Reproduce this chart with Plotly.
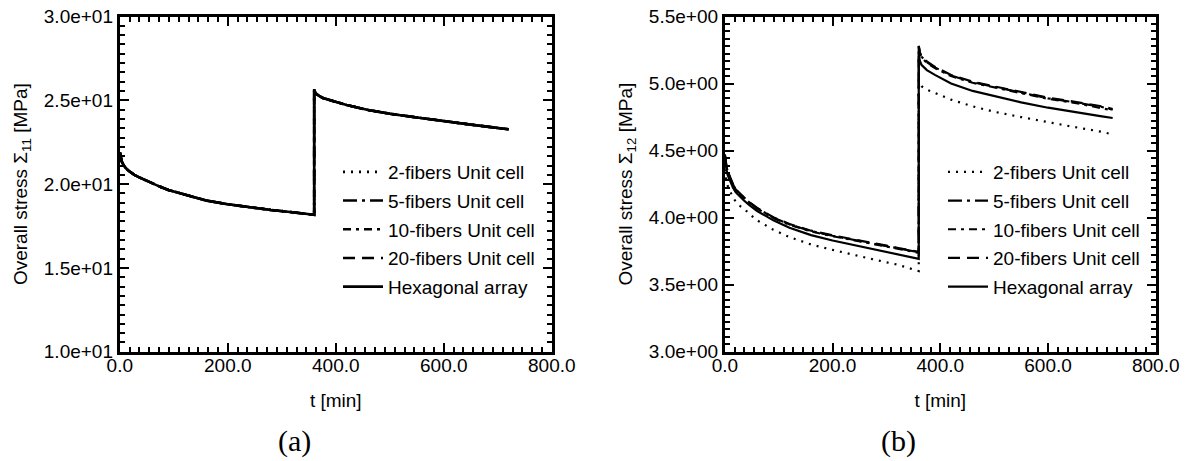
import plotly.graph_objects as go

# ---------------- data ----------------
t_min = [0, 1, 2, 3.5, 5, 7.5, 10, 15, 20, 27, 35, 45, 60, 75, 90, 120, 160, 200, 240, 280, 320, 360,
         360, 361, 362, 365, 370, 375, 390, 420, 460, 500, 550, 600, 650, 700, 720]

# (a) overall stress Sigma_11 [MPa]  (all five models coincide)
sigma11 = [21.9, 21.65, 21.5, 21.36, 21.25, 21.1, 21.0, 20.83, 20.7, 20.55, 20.42, 20.27, 20.04, 19.84, 19.65,
           19.38, 19.02, 18.8, 18.62, 18.46, 18.32, 18.17,
           25.66, 25.52, 25.45, 25.35, 25.24, 25.15, 25.0, 24.72, 24.42, 24.2, 23.98, 23.75, 23.55, 23.35, 23.27]

# (b) overall stress Sigma_12 [MPa]
s12_2fib = [4.36, 4.32, 4.29, 4.26, 4.24, 4.215, 4.193, 4.155, 4.12, 4.09, 4.07, 4.03, 3.98, 3.945, 3.91,
            3.855, 3.80, 3.76, 3.72, 3.685, 3.65, 3.602,
            5.03, 5.015, 5.00, 4.98, 4.968, 4.955, 4.93, 4.88, 4.83, 4.79, 4.75, 4.71, 4.675, 4.64, 4.62]
s12_5fib = [4.47, 4.43, 4.40, 4.37, 4.35, 4.32, 4.29, 4.25, 4.21, 4.18, 4.15, 4.115, 4.07, 4.035, 4.00,
            3.95, 3.90, 3.865, 3.835, 3.80, 3.77, 3.742,
            5.28, 5.25, 5.23, 5.20, 5.18, 5.16, 5.12, 5.06, 5.01, 4.975, 4.93, 4.89, 4.86, 4.825, 4.805]
s12_10fib = [4.47, 4.43, 4.40, 4.37, 4.35, 4.318, 4.288, 4.247, 4.208, 4.177, 4.147, 4.112, 4.067, 4.032, 3.997,
             3.947, 3.897, 3.862, 3.832, 3.797, 3.767, 3.738,
             5.27, 5.245, 5.225, 5.195, 5.175, 5.155, 5.115, 5.056, 5.006, 4.971, 4.926, 4.886, 4.856, 4.82, 4.80]
s12_20fib = [4.47, 4.43, 4.40, 4.37, 4.35, 4.322, 4.292, 4.252, 4.213, 4.183, 4.153, 4.118, 4.073, 4.038, 4.003,
             3.953, 3.903, 3.868, 3.838, 3.803, 3.773, 3.745,
             5.28, 5.255, 5.235, 5.205, 5.185, 5.165, 5.125, 5.064, 5.014, 4.979, 4.934, 4.894, 4.864, 4.83, 4.81]
s12_hex = [4.46, 4.42, 4.38, 4.35, 4.32, 4.295, 4.267, 4.225, 4.19, 4.16, 4.13, 4.095, 4.05, 4.015, 3.98,
           3.925, 3.87, 3.83, 3.795, 3.76, 3.725, 3.693,
           5.22, 5.19, 5.17, 5.14, 5.12, 5.10, 5.065, 5.00, 4.945, 4.905, 4.86, 4.82, 4.785, 4.755, 4.743]

series_names = ["2-fibers Unit cell", "5-fibers Unit cell", "10-fibers Unit cell",
                "20-fibers Unit cell", "Hexagonal array"]

x_tickvals = [0, 200, 400, 600, 800]
x_ticktext = ["0.0", "200.0", "400.0", "600.0", "800.0"]
y1_tickvals = [10, 15, 20, 25, 30]
y1_ticktext = ["1.0e+01", "1.5e+01", "2.0e+01", "2.5e+01", "3.0e+01"]
y2_tickvals = [3.0, 3.5, 4.0, 4.5, 5.0, 5.5]
y2_ticktext = ["3.0e+00", "3.5e+00", "4.0e+00", "4.5e+00", "5.0e+00", "5.5e+00"]

# ---------------- styling ----------------
FONT = "Liberation Sans, Arial, sans-serif"
FS = 19
dashes = ["2px,6px", "14px,5px,3px,5px", "8px,5px,3px,5px", "12px,7px", "solid"]

fig = go.Figure()

left_series = [sigma11, sigma11, sigma11, sigma11, sigma11]
for i, (name, ys) in enumerate(zip(series_names, left_series)):
    fig.add_trace(go.Scatter(x=t_min, y=ys, mode="lines", name=name,
                             line=dict(color="black", width=2.6, dash=dashes[i]),
                             xaxis="x", yaxis="y", legend="legend", legendgroup="a%d" % i))

right_series = [s12_2fib, s12_5fib, s12_10fib, s12_20fib, s12_hex]
for i, (name, ys) in enumerate(zip(series_names, right_series)):
    fig.add_trace(go.Scatter(x=t_min, y=ys, mode="lines", name=name,
                             line=dict(color="black", width=2.2, dash=dashes[i]),
                             xaxis="x2", yaxis="y2", legend="legend2", legendgroup="b%d" % i))


def xaxis(domain, anchor):
    return dict(domain=domain, anchor=anchor, range=[0, 800], tickmode="array",
                tickvals=x_tickvals, ticktext=x_ticktext, automargin=False,
                ticks="inside", ticklen=9, tickwidth=2, tickcolor="black",
                ticklabelstandoff=-6,
                showline=True, linewidth=3, linecolor="black", mirror="allticks",
                showgrid=False, zeroline=False,
                tickfont=dict(family=FONT, size=FS, color="black"),
                minor=dict(tickmode="linear", tick0=0, dtick=200 / 11, ticks="inside",
                           ticklen=5, tickwidth=1.5, tickcolor="black", showgrid=False),
                title=dict(text="t [min]", font=dict(family=FONT, size=FS, color="black"), standoff=20))


def yaxis(domain, anchor, rng, tv, tt, minor_dt, title):
    return dict(domain=domain, anchor=anchor, range=rng, tickmode="array",
                tickvals=tv, ticktext=tt, automargin=False,
                ticks="inside", ticklen=9, tickwidth=2, tickcolor="black",
                showline=True, linewidth=3, linecolor="black", mirror="allticks",
                showgrid=False, zeroline=False,
                tickfont=dict(family=FONT, size=FS, color="black"),
                minor=dict(tickmode="linear", tick0=rng[0], dtick=minor_dt, ticks="inside",
                           ticklen=5, tickwidth=1.5, tickcolor="black", showgrid=False),
                title=dict(text=title, font=dict(family=FONT, size=FS, color="black"), standoff=12))


ydom = [0.2369, 0.9642]
legend_common = dict(xanchor="left", yanchor="top", bgcolor="rgba(0,0,0,0)", borderwidth=0,
                     font=dict(family=FONT, size=FS, color="black"), tracegroupgap=1,
                     itemwidth=40)

fig.update_layout(
    width=1191, height=461,
    margin=dict(l=0, r=0, t=0, b=0, autoexpand=False),
    paper_bgcolor="white", plot_bgcolor="white",
    font=dict(family=FONT, size=FS, color="black"),
    xaxis=xaxis([0.1006, 0.4633], "y"),
    yaxis=yaxis(ydom, "x", [10, 30], y1_tickvals, y1_ticktext, 5 / 9,
                "Overall stress Σ<sub>11</sub> [MPa]"),
    xaxis2=xaxis([0.6086, 0.9704], "y2"),
    yaxis2=yaxis(ydom, "x2", [3.0, 5.5], y2_tickvals, y2_ticktext, 0.5 / 9,
                 "Overall stress Σ<sub>12</sub> [MPa]"),
    legend=dict(x=338 / 1191, y=1 - 153 / 461, **legend_common),
    legend2=dict(x=943 / 1191, y=1 - 153 / 461, **legend_common),
    showlegend=True,
    annotations=[
        dict(text="(a)", x=294 / 1191, y=1 - 441 / 461, xref="paper", yref="paper",
             xanchor="center", yanchor="middle",
             showarrow=False, font=dict(family="Liberation Serif, serif", size=30, color="black")),
        dict(text="(b)", x=898 / 1191, y=1 - 441 / 461, xref="paper", yref="paper",
             xanchor="center", yanchor="middle",
             showarrow=False, font=dict(family="Liberation Serif, serif", size=30, color="black")),
    ],
)

fig.write_html("out.html", include_plotlyjs=True, config={"displayModeBar": False})
